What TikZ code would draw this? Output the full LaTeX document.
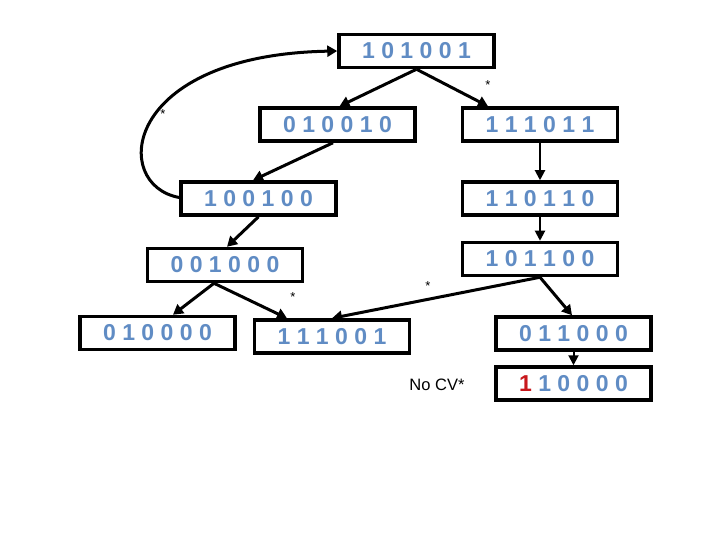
\documentclass[tikz,border=0pt]{standalone}
\usepackage{fontspec}
\setmainfont{Liberation Sans}
\usetikzlibrary{arrows.meta}
\definecolor{digitblue}{RGB}{96,140,196}
\definecolor{digitred}{RGB}{200,24,28}
\begin{document}
\begin{tikzpicture}[x=1bp,y=-1bp,
  bitbox/.style={draw=black,line width=3.5bp,minimum width=155bp,minimum height=33bp,
    inner sep=0pt,text=digitblue,font=\fontsize{23bp}{26bp}\selectfont\bfseries},
  conn/.style={line width=3bp,-{Triangle[length=10bp,width=11bp]}},
  thinconn/.style={line width=2bp,-{Triangle[length=10bp,width=10bp]}},
  star/.style={font=\fontsize{13bp}{14bp}\selectfont,inner sep=0pt}]
\useasboundingbox[fill=white] (0,0) rectangle (720,540);
\node[bitbox] (A) at (416.5,51) {1 0 1 0 0 1};
\node[bitbox] (B) at (337.5,124.5) {0 1 0 0 1 0};
\node[bitbox] (C) at (540,124.5) {1 1 1 0 1 1};
\node[bitbox] (D) at (258.5,198.5) {1 0 0 1 0 0};
\node[bitbox] (E) at (540,198.5) {1 1 0 1 1 0};
\node[bitbox] (F) at (225,265) {0 0 1 0 0 0};
\node[bitbox] (G) at (540,259) {1 0 1 1 0 0};
\node[bitbox] (H) at (157.5,333) {0 1 0 0 0 0};
\node[bitbox] (I) at (332,336.5) {1 1 1 0 0 1};
\node[bitbox] (J) at (573.5,333.5) {0 1 1 0 0 0};
\node[bitbox] (K) at (573.5,383.5) {\textcolor{digitred}{1} 1 0 0 0 0};
\node[font=\fontsize{16.5bp}{19bp}\selectfont,inner sep=0pt] (nocv) at (437,385) {No CV*};
\node[star] (s1) at (488,85) {*};
\node[star] (s2) at (163,114) {*};
\node[star] (s3) at (293,297) {*};
\node[star] (s4) at (428,286) {*};
\draw[conn] (A.south) -- ([xshift=2bp]B.north);
\draw[conn] (A.south) -- ([xshift=-52bp]C.north);
\draw[conn] ([xshift=-4.5bp]B.south) -- ([xshift=-5.5bp]D.north);
\draw[thinconn] (C.south) -- (E.north);
\draw[conn] ([yshift=1bp]D.west) .. controls (110,185) and (122,55) .. (A.west);
\draw[thinconn] (E.south) -- (G.north);
\draw[conn] (D.south) -- ([xshift=2bp]F.north);
\draw[conn] ([xshift=-11bp]F.south) -- ([xshift=15.5bp]H.north);
\draw[conn] ([xshift=-11bp]F.south) -- ([xshift=-45bp]I.north);
\draw[conn] (G.south) -- (I.north);
\draw[conn] (G.south) -- ([xshift=-1.5bp]J.north);
\draw[thinconn] (J.south) -- (K.north);
\end{tikzpicture}
\end{document}
